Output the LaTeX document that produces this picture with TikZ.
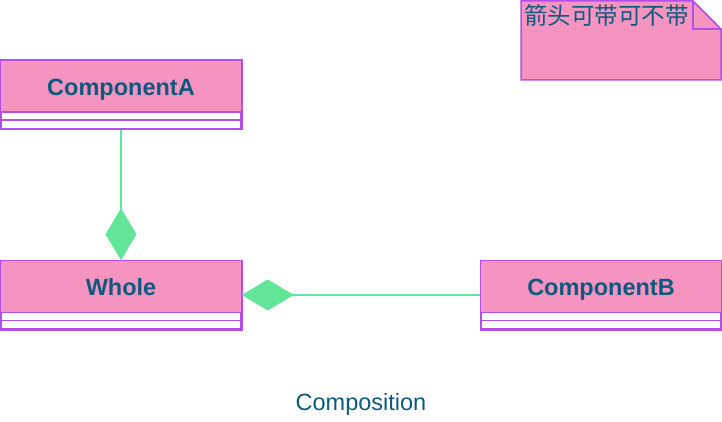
\documentclass[tikz,border=0pt]{standalone}
\usepackage{fontspec}
\setmainfont{Liberation Sans}
\newfontfamily\cjkfont{Noto Sans CJK SC}
\usetikzlibrary{arrows.meta,positioning}

\definecolor{umlpink}{HTML}{F694C1}
\definecolor{umlborder}{HTML}{B14EEC}
\definecolor{umlline}{HTML}{62E598}
\definecolor{umltext}{HTML}{0E5A7F}

\begin{document}
\begin{tikzpicture}[x=1pt,y=-1pt,
  classbox/.style={draw=umlborder,fill=white,line width=1.5pt,minimum width=240pt,minimum height=68pt,inner sep=0pt},
  classname/.style={text=umltext,anchor=base,inner sep=0pt,font=\bfseries\fontsize{23.5}{28}\selectfont},
  compline/.style={draw=umlline,line width=1.5pt,-{Diamond[length=52pt,width=31pt,fill=umlline]}}]
\useasboundingbox (0,0) rectangle (722,422);

\foreach \n/\t/\x/\y in {A/ComponentA/121/95, W/Whole/121/295, B/ComponentB/601/295}{
  \node[classbox] (\n) at (\x,\y) {};
  \fill[umlpink] (\n.north west) rectangle ([yshift=-52pt]\n.north east);
  \draw[umlborder,line width=1.5pt] (\n.north west) rectangle (\n.south east);
  \draw[umlborder,line width=1.5pt] ([yshift=-52pt]\n.north west) -- ([yshift=-52pt]\n.north east);
  \draw[umlborder,line width=1.5pt] ([yshift=-60pt]\n.north west) -- ([yshift=-60pt]\n.north east);
  \node[classname] (\n name) at ([yshift=-35pt]\n.north) {\t};
}

\draw[compline] (A.south) -- (W.north);
\draw[compline] (B.west) -- (W.east);

% note
\fill[umlpink] (521,1) -- (693,1) -- (721,29) -- (721,80) -- (521,80) -- cycle;
\draw[umlborder,line width=1.5pt] (521,1) -- (693,1) -- (721,29) -- (721,80) -- (521,80) -- cycle;
\draw[umlborder,line width=1.5pt] (693,1) -- (693,29) -- (721,29);
\node[anchor=base west,inner sep=0pt,text=umltext,font=\cjkfont\fontsize{23.5}{28}\selectfont] (note) at (524,25) {箭头可带可不带};

\node[text=umltext,anchor=base,inner sep=0pt,font=\fontsize{23.5}{28}\selectfont] (caption) at (361,410) {Composition};

\end{tikzpicture}
\end{document}
